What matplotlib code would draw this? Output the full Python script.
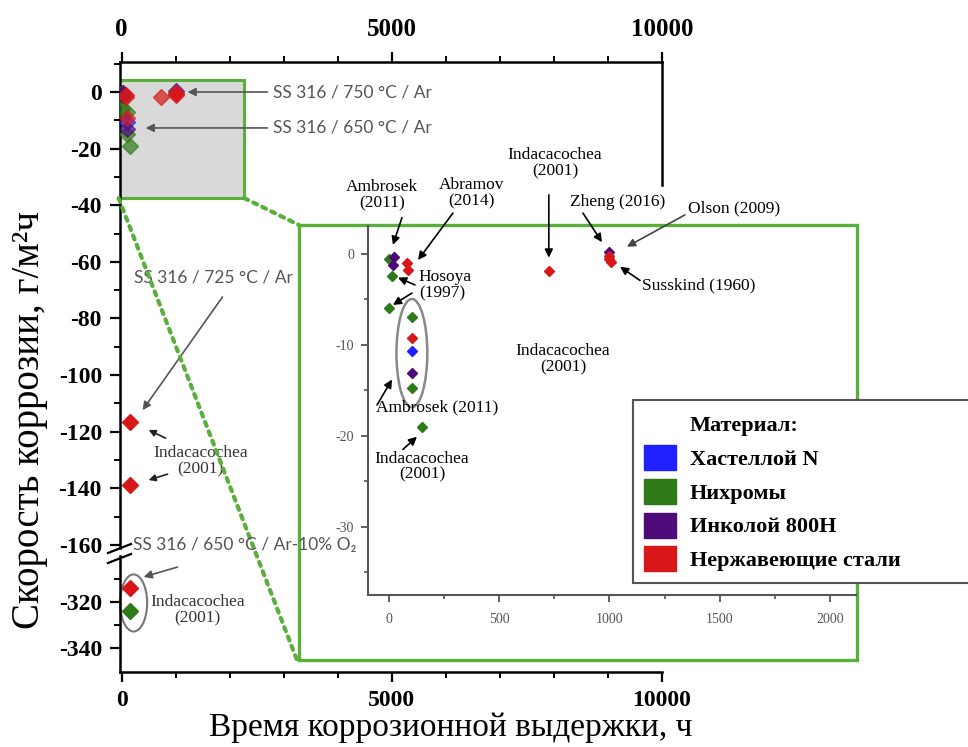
import matplotlib
matplotlib.use('Agg')
import matplotlib.pyplot as plt
from matplotlib.patches import Rectangle, Ellipse, Patch, ConnectionPatch
from matplotlib.lines import Line2D
from matplotlib.ticker import MultipleLocator

plt.rcParams['font.family'] = ['Liberation Serif', 'DejaVu Serif']
plt.rcParams['axes.unicode_minus'] = False

# materials and colours
materials = ['Хастеллой N', 'Нихромы', 'Инколой 800H', 'Нержавеющие стали']
colors = ['#1f1fff', '#2e7a18', '#4e0a78', '#d81818']

# short-time data (time, h ; corrosion rate, g/m2h), shown in the inset and in the grey box
hast_t = [105]
hast_r = [-10.7]
nichr_t = [0, 12, 0, 105, 105, 150]
nichr_r = [-0.5, -2.4, -5.9, -6.9, -14.7, -19.0]
incol_t = [25, 20, 105, 1000]
incol_r = [-0.3, -1.2, -13.1, 0.2]
ss_t = [80, 85, 105, 725, 1000, 1000, 1005]
ss_r = [-1.0, -1.8, -9.2, -1.9, -0.2, -0.6, -0.9]

# large-loss points of the main chart
ss725_t = [150, 150]
ss725_r = [-116.5, -138.8]
o2_ss_t = [150]
o2_ss_r = [-314.0]
o2_ni_t = [150]
o2_ni_r = [-324.0]

W, H = 968, 747
green = '#5aae3c'
gray_txt = '#555555'
lato = ['Lato', 'DejaVu Sans']


def fx(px):
    return px / W


def fy(py):
    return 1 - py / H


fig = plt.figure(figsize=(9.68, 7.47), dpi=100)

# main chart, broken y axis
ax = fig.add_axes([fx(120), fy(548), fx(662) - fx(120), fy(62) - fy(548)], zorder=0)
axl = fig.add_axes([fx(120), fy(672), fx(662) - fx(120), fy(556) - fy(672)], zorder=0)

ax.set_xlim(-30, 10000)
ax.set_ylim(-161.1, 10.6)
axl.set_xlim(-30, 10000)
axl.set_ylim(-350.4, -300)

ax.spines['bottom'].set_visible(False)
ax.spines['right'].set_bounds(-33, 10.6)
axl.spines['top'].set_visible(False)
axl.spines['right'].set_visible(False)
for a in (ax, axl):
    for s in a.spines.values():
        s.set_linewidth(1.8)
    a.set_xticks([0, 5000, 10000])
    a.xaxis.set_minor_locator(MultipleLocator(1000))
    a.tick_params(which='major', direction='out', length=7, width=1.6, labelsize=17, pad=6)
    a.tick_params(which='minor', direction='out', length=4, width=1.4)
ax.xaxis.tick_top()
ax.xaxis.set_tick_params(which='both', top=True, bottom=False)
ax.tick_params(axis='x', labelsize=18, pad=8)
ax.set_yticks(range(0, -161, -20))
ax.yaxis.set_minor_locator(MultipleLocator(10))
axl.set_yticks([-320, -340])
axl.set_yticks([-310, -330], minor=True)
for a in (ax, axl):
    for lab in a.get_xticklabels() + a.get_yticklabels():
        lab.set_fontweight('bold')

# grey box of the zoomed region
ax.add_patch(Rectangle((-55, -37.5), 2325, 41.7, facecolor='#d9d9d9',
                       edgecolor=green, lw=2.2, zorder=1))

series = [(hast_t, hast_r, 0), (nichr_t, nichr_r, 1), (incol_t, incol_r, 2), (ss_t, ss_r, 3)]
order = [1, 0, 2, 3]
for i in order:
    t, r, c = series[i]
    ax.plot(t, r, 'D', ms=8, color=colors[c], alpha=0.7, zorder=3)
ax.plot(ss725_t, ss725_r, 'D', ms=8, color=colors[3], zorder=3)
axl.plot(o2_ss_t, o2_ss_r, 'D', ms=8, color=colors[3], zorder=3)
axl.plot(o2_ni_t, o2_ni_r, 'D', ms=8, color=colors[1], zorder=3)
axl.add_patch(Ellipse((222, -320.4), 500, 24.8, facecolor='none', edgecolor='#777777',
                      lw=1.5, clip_on=False, zorder=2))


def arrow(a, tail, head, color='k', lw=1.2, ms=12):
    a.annotate('', xy=head, xytext=tail, annotation_clip=False,
               arrowprops=dict(arrowstyle='-|>', color=color, lw=lw, mutation_scale=ms,
                               shrinkA=0, shrinkB=0))


# main chart notes
ax.text(2810, 0, 'SS 316 / 750 °C / Ar', family=lato, fontsize=12.5, color=gray_txt, va='center')
arrow(ax, (2700, 0), (1220, 0), gray_txt)
ax.text(2810, -12.7, 'SS 316 / 650 °C / Ar', family=lato, fontsize=12.5, color=gray_txt, va='center')
arrow(ax, (2700, -12.7), (444, -12.7), gray_txt)
ax.text(222, -65.7, 'SS 316 / 725 °C / Ar', family=lato, fontsize=12.5, color=gray_txt, va='center')
arrow(ax, (1867, -72.4), (388, -112.4), gray_txt)
ax.text(1460, -130.4, 'Indacacochea\n(2001)', ha='center', va='center', fontsize=12.5,
        linespacing=1.05, color='#333333')
arrow(ax, (813, -122.3), (500, -119.4), '#222222', ms=10)
arrow(ax, (850, -135), (500, -137.1), '#222222', ms=10)
fig.text(fx(133), fy(545), 'SS 316 / 650 °C / Ar-10% O₂', family=lato, fontsize=12.5,
         color=gray_txt, va='center', zorder=5)
arrow(axl, (1035, -304.8), (407, -309.1), gray_txt)
axl.text(1405, -323.5, 'Indacacochea\n(2001)', ha='center', va='center', fontsize=12.5,
         linespacing=1.05, color='#333333')

# broken axis marks
for y0 in (553, 563):
    fig.add_artist(Line2D([fx(108), fx(131)], [fy(y0), fy(y0 - 9)],
                          transform=fig.transFigure, color='k', lw=1.6))

fig.text(fx(30), fy(420), 'Скорость коррозии, г/м²ч', rotation=90, fontsize=28,
         ha='center', va='center')
fig.text(fx(451), fy(728), 'Время коррозионной выдержки, ч', fontsize=24,
         ha='center', va='center')

# inset frame and dotted connectors
fig.add_artist(Rectangle((fx(299), fy(660)), fx(857) - fx(299), fy(225) - fy(660),
                         transform=fig.transFigure, facecolor='white', edgecolor=green,
                         lw=2.4, zorder=1))
for xyA, xyB in [((2270, -37.5), (fx(299), fy(225))), ((-55, -37.5), (fx(297), fy(660)))]:
    fig.add_artist(ConnectionPatch(xyA=xyA, coordsA=ax.transData, xyB=xyB,
                                   coordsB=fig.transFigure, color=green, lw=3,
                                   ls=(0, (1, 1.4)), zorder=3))

# inset
axi = fig.add_axes([fx(368), fy(595), fx(856) - fx(368), fy(226) - fy(595)], zorder=2)
axi.set_facecolor('none')
axi.set_xlim(-95, 2118)
axi.set_ylim(-37.5, 3.08)
axi.spines['top'].set_visible(False)
axi.spines['right'].set_visible(False)
for s in ('left', 'bottom'):
    axi.spines[s].set_color('#555555')
    axi.spines[s].set_linewidth(1.5)
axi.set_xticks([0, 500, 1000, 1500, 2000])
axi.xaxis.set_minor_locator(MultipleLocator(250))
axi.set_yticks([0, -10, -20, -30])
axi.yaxis.set_minor_locator(MultipleLocator(5))
axi.tick_params(which='major', direction='out', length=5, width=1.3, colors='#555555',
                labelsize=10)
axi.tick_params(which='minor', direction='out', length=3, width=1.2, colors='#555555')
axi.tick_params(axis='x', pad=8)
axi.tick_params(axis='y', pad=5)

for i in order:
    t, r, c = series[i]
    axi.plot(t, r, 'D', ms=5, color=colors[c], zorder=3)
axi.add_patch(Ellipse((104, -10.9), 140, 11.9, facecolor='none', edgecolor='#888888',
                      lw=1.8, zorder=2))

fs = 12.5
axi.text(-32, 6.5, 'Ambrosek\n(2011)', ha='center', va='center', fontsize=fs, linespacing=1.0)
arrow(axi, (59, 4.0), (18, 1.0))
axi.text(376, 6.7, 'Abramov\n(2014)', ha='center', va='center', fontsize=fs, linespacing=1.0)
arrow(axi, (290, 4.5), (132, -0.66))
axi.text(136, -3.4, 'Hosoya\n(1997)', ha='left', va='center', fontsize=fs, linespacing=1.0)
arrow(axi, (118, -3.4), (41, -2.6))
arrow(axi, (104, -4.3), (18, -5.6))
axi.text(753, 10.0, 'Indacacochea\n(2001)', ha='center', va='center', fontsize=fs, linespacing=1.0)
arrow(axi, (725, 6.5), (725, -0.4))
axi.text(1039, 5.7, 'Zheng (2016)', ha='center', va='center', fontsize=fs)
arrow(axi, (880, 4.5), (966, 1.3))
axi.text(1356, 5.0, 'Olson (2009)', ha='left', va='center', fontsize=fs)
arrow(axi, (1342, 4.3), (1079, 0.8), '#444444')
axi.text(1147, -3.4, 'Susskind (1960)', ha='left', va='center', fontsize=fs)
arrow(axi, (1138, -2.9), (1048, -1.4))
axi.text(789, -11.6, 'Indacacochea\n(2001)', ha='center', va='center', fontsize=fs, linespacing=1.0)
axi.text(218, -16.9, 'Ambrosek (2011)', ha='center', va='center', fontsize=fs)
arrow(axi, (-54, -16.6), (14, -13.8))
axi.text(150, -23.4, 'Indacacochea\n(2001)', ha='center', va='center', fontsize=fs, linespacing=1.0)
arrow(axi, (63, -21.5), (127, -20.1))

handles = [Patch(facecolor='none', edgecolor='none')]
handles += [Patch(facecolor=c, edgecolor=c) for c in colors]
labels = ['Материал:'] + materials
leg = axi.legend(handles, labels, loc='upper left',
                 bbox_to_anchor=(fx(633), fy(584), fx(990) - fx(633), fy(400) - fy(584)),
                 bbox_transform=fig.transFigure, mode='expand',
                 prop={'weight': 'bold', 'size': 16}, fancybox=False, framealpha=1,
                 edgecolor='#555555', borderpad=0.5, handlelength=1.45, handleheight=1.35,
                 handletextpad=0.6, labelspacing=0.4, borderaxespad=0)
leg.get_frame().set_linewidth(1.5)

fig.savefig('out.png', dpi=100)
